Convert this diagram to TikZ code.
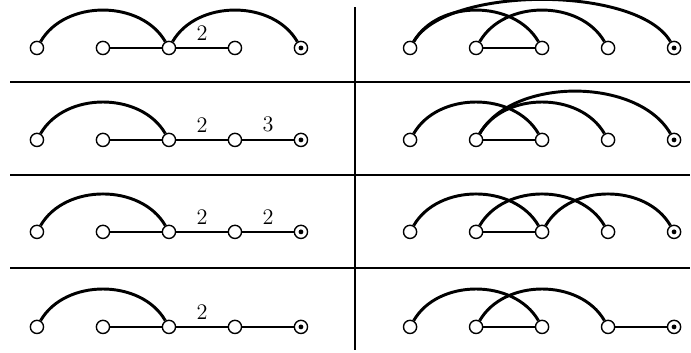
\documentclass[tikz,border=0pt]{standalone}
\usepackage{tikz}

\begin{document}
\begin{tikzpicture}[
    vert/.style={circle, draw, fill=white, inner sep=0pt, minimum size=0.3cm, line width=0.9pt},
    root/.style={vert},
    edge/.style={line width=1.1pt},
    hop/.style={line width=1.9pt, out=60, in=120},
    rule/.style={line width=1.2pt},
    wt/.style={above=3.5pt, inner sep=1pt, font=\Large}
]
\useasboundingbox (0,0) rectangle (15.705,-8.023);

% separators
\draw[rule] (0.23,-1.86) -- (15.68,-1.86);
\draw[rule] (0.23,-3.98) -- (15.68,-3.98);
\draw[rule] (0.23,-6.09) -- (15.68,-6.09);
\draw[rule] (8.07,-0.16) -- (8.07,-7.95);

% vertices
\foreach \r/\y in {1/-1.09, 2/-3.18, 3/-5.27, 4/-7.43} {
    \foreach \i in {1,...,4} {
        \node[vert] (l\r\i) at ({0.84+1.5*(\i-1)},\y) {};
        \node[vert] (r\r\i) at ({9.32+1.5*(\i-1)},\y) {};
    }
    \node[root] (l\r5) at (6.84,\y) {};
    \node[root] (r\r5) at (15.32,\y) {};
    \fill (l\r5) circle (0.055);
    \fill (r\r5) circle (0.055);
}

% left column
\draw[edge] (l12) -- (l13);
\draw[edge] (l13) -- node[wt] {2} (l14);
\draw[hop] (l11) to (l13);
\draw[hop] (l13) to (l15);

\draw[edge] (l22) -- (l23);
\draw[edge] (l23) -- node[wt] {2} (l24);
\draw[edge] (l24) -- node[wt] {3} (l25);
\draw[hop] (l21) to (l23);

\draw[edge] (l32) -- (l33);
\draw[edge] (l33) -- node[wt] {2} (l34);
\draw[edge] (l34) -- node[wt] {2} (l35);
\draw[hop] (l31) to (l33);

\draw[edge] (l42) -- (l43);
\draw[edge] (l43) -- node[wt] {2} (l44);
\draw[edge] (l44) -- (l45);
\draw[hop] (l41) to (l43);

% right column
\draw[edge] (r12) -- (r13);
\draw[hop] (r11) to (r13);
\draw[hop] (r12) to (r14);
\draw[hop, looseness=0.65] (r11) to (r15);

\draw[edge] (r22) -- (r23);
\draw[hop] (r21) to (r23);
\draw[hop] (r22) to (r24);
\draw[hop, looseness=0.88] (r22) to (r25);

\draw[edge] (r32) -- (r33);
\draw[hop] (r31) to (r33);
\draw[hop] (r32) to (r34);
\draw[hop] (r33) to (r35);

\draw[edge] (r42) -- (r43);
\draw[edge] (r44) -- (r45);
\draw[hop] (r41) to (r43);
\draw[hop] (r42) to (r44);
\end{tikzpicture}
\end{document}
